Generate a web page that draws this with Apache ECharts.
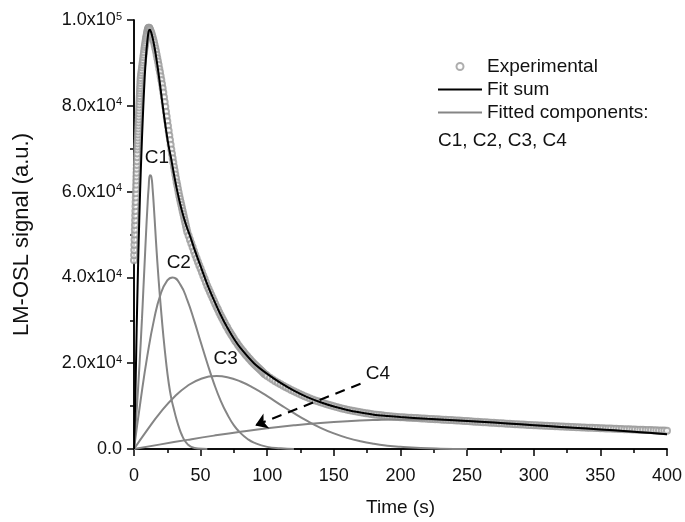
<!DOCTYPE html>
<html>
<head>
<meta charset="utf-8">
<script src="https://cdn.jsdelivr.net/npm/echarts@6/dist/echarts.min.js"></script>
<style>
  html, body { margin: 0; padding: 0; background: #fff; }
  #chart { width: 685px; height: 522px; }
</style>
</head>
<body>
<div id="chart"></div>
<script>
// y tick labels (superscript via rich text)
const yTickLabels = ['0.0', '2.0x10{sup|4}', '4.0x10{sup|4}', '6.0x10{sup|4}', '8.0x10{sup|4}', '1.0x10{sup|5}'];

// experimental LM-OSL points, grouped by time step
const expRise = [44000, 45200, 46400, 47600, 48800, 50000, 51100, 52200, 53300, 54400,
    55500, 56600, 57600, 58600, 59600, 60600, 61600, 62600, 63500, 64400,
    65300, 66200, 67100, 68000, 68900, 69800, 70500, 71200, 71900, 72600,
    73300, 74000, 74700, 75400, 76100, 76800, 77500, 78200, 78900, 79600,
    80300, 81000, 81700, 82300, 82900, 83500, 84100, 84700, 85300, 85900, 86500];  // 0 - 5 s, 0.1 s
const expPeak = [87100, 87700, 88300, 88900, 89500, 90100, 90700, 91300, 91900, 92500,
    93100, 93700, 94200, 94700, 95200, 95700, 96100, 96500, 96900, 97300,
    97600, 97900, 98100, 98200, 98200, 98100, 97900, 97700];  // 5.25 - 12 s, 0.25 s
const expFall = [97400, 97000, 96500, 96000, 95400, 94800, 94100, 93400, 92700, 91900,
    91100, 90300, 89500, 88600, 87800, 86900, 86000, 85100, 84100, 83100,
    82000, 80900, 79800, 78600, 77500, 76400, 75300, 74200, 73100, 72000,
    70900, 69800, 68800, 67800, 66800, 65800, 64900, 64000, 63100, 62200,
    61400, 60600, 59800, 59000, 58300, 57600, 56900, 56200, 55500, 54800,
    54100, 53400, 52700, 52000, 51300, 50600];  // 12.5 - 40 s, 0.5 s
const expMid = [49700, 48800, 47900, 47000, 46100, 45200, 44400, 43600, 42800, 42000,
    41200, 40400, 39600, 38800, 38000, 37300, 36600, 35900, 35200, 34500,
    33800, 33100, 32500, 31800, 31200, 30600, 30000, 29400, 28800, 28300,
    27700, 27200, 26700, 26200, 25700, 25200, 24800, 24300, 23900, 23500,
    23100, 22700, 22300, 21900, 21600, 21200, 20900, 20500, 20200, 19900,
    19600, 19300, 19000, 18700, 18400, 18100, 17800, 17500, 17300, 17000];  // 41 - 100 s, 1 s
const expTail = [16600, 16200, 15800, 15450, 15100, 14750, 14400, 14080, 13760, 13450,
    13150, 12860, 12580, 12310, 12050, 11800, 11560, 11330, 11110, 10900,
    10700, 10500, 10310, 10120, 9940, 9770, 9610, 9450, 9300, 9160,
    9030, 8900, 8780, 8660, 8550, 8450, 8350, 8250, 8160, 8070,
    7990, 7910, 7840, 7770, 7700, 7640, 7580, 7520, 7470, 7420,
    7380, 7340, 7310, 7270, 7240, 7200, 7160, 7130, 7090, 7050,
    7020, 6980, 6950, 6910, 6880, 6840, 6810, 6770, 6740, 6700,
    6660, 6620, 6580, 6540, 6500, 6460, 6420, 6380, 6340, 6300,
    6260, 6220, 6180, 6140, 6100, 6060, 6020, 5980, 5940, 5900,
    5860, 5830, 5790, 5760, 5720, 5690, 5650, 5620, 5580, 5550,
    5520, 5490, 5460, 5430, 5400, 5370, 5340, 5310, 5280, 5250,
    5220, 5200, 5170, 5140, 5110, 5090, 5060, 5030, 5010, 4980,
    4950, 4930, 4900, 4880, 4850, 4820, 4800, 4770, 4750, 4720,
    4700, 4680, 4650, 4630, 4610, 4580, 4560, 4540, 4510, 4490,
    4470, 4450, 4420, 4400, 4380, 4360, 4340, 4310, 4290, 4270];  // 102 - 400 s, 2 s

const fitSum = [[0, 0], [1, 12000], [2, 28000], [3, 42000], [4, 54000], [5, 64000], [6, 72500],
    [7, 80000], [8, 86500], [9, 91500], [10, 95000], [11, 97300], [12, 97700], [13, 97000],
    [14, 95800], [15, 94300], [16, 92600], [18, 88500], [20, 83800], [22, 79000], [24, 74500],
    [26, 70600], [28, 67500], [30, 64000], [32, 60800], [34, 58000], [36, 55500], [38, 53300],
    [40, 51400], [42, 49700], [45, 46900], [50, 42600], [55, 38400], [60, 34700], [65, 31300],
    [70, 28300], [75, 25700], [80, 23500], [90, 20000], [100, 17500], [110, 15400], [120, 13600],
    [130, 12100], [140, 10900], [150, 9900], [160, 9100], [170, 8500], [180, 8000], [190, 7700],
    [200, 7450], [220, 7050], [240, 6700], [260, 6350], [280, 5950], [300, 5550], [320, 5150],
    [340, 4750], [360, 4350], [380, 3900], [400, 3450]];

const compC1 = [[0, 0], [2, 9000], [4, 19000], [6, 30500], [7, 37000], [8, 43500], [9, 50000],
    [10, 56000], [11, 61000], [12, 63800], [13, 63500], [14, 60500], [15, 56000], [16, 51000],
    [17, 46000], [18, 41500], [19, 37300], [20, 33500], [22, 26500], [24, 20500], [26, 15500],
    [28, 11800], [30, 9200], [32, 6800], [34, 4800], [36, 3200], [38, 2000], [40, 1200],
    [43, 500], [48, 100], [55, 0]];
const compC2 = [[0, 0], [5, 11400], [10, 21700], [15, 30100], [20, 36100], [25, 39300], [29, 40000],
    [35, 38200], [40, 34700], [45, 30100], [50, 25000], [55, 20000], [60, 15300], [65, 11300],
    [70, 8100], [75, 5500], [80, 3700], [85, 2400], [90, 1500], [100, 500], [110, 150], [120, 0]];
const compC3 = [[0, 0], [10, 4460], [20, 8590], [30, 12070], [40, 14680], [50, 16330], [62, 17000],
    [70, 16740], [80, 15730], [90, 14190], [100, 12320], [110, 10300], [120, 8340], [130, 6530],
    [140, 4940], [150, 3630], [160, 2590], [170, 1790], [180, 1200], [190, 780], [200, 500],
    [215, 220], [230, 80], [250, 0]];
const compC4 = [[0, 0], [20, 1080], [40, 2130], [60, 3120], [80, 4030], [100, 4840], [120, 5520],
    [140, 6070], [160, 6480], [180, 6750], [200, 6890], [220, 6880], [240, 6700], [260, 6380],
    [280, 5980], [300, 5580], [320, 5170], [340, 4760], [360, 4340], [380, 3900], [400, 3450]];

let experimental = [];
[[0, 0.1, expRise], [5.25, 0.25, expPeak], [12.5, 0.5, expFall], [41, 1, expMid], [102, 2, expTail]]
    .forEach(seg => seg[2].forEach((v, i) => experimental.push([+(seg[0] + i * seg[1]).toFixed(2), v])));

const FONT = "'Liberation Sans', Arial, sans-serif";
const GREY = '#858585';
const LINE_ICON = 'path://M0,0H44V2H0Z';

let myChart = echarts.init(document.getElementById('chart'));

function component(data, label) {
    return {
        name: 'Fitted components:',
        type: 'line',
        data: data,
        smooth: true,
        symbol: 'none',
        lineStyle: {color: GREY, width: 2},
        itemStyle: {color: GREY},
        z: 3,
        markPoint: {
            symbol: 'circle',
            symbolSize: 0,
            silent: true,
            label: {show: true, position: 'inside', fontSize: 19, color: '#111', fontFamily: FONT},
            data: [label]
        }
    };
}

let option = {
    animation: false,
    textStyle: {fontFamily: FONT},
    grid: {left: 134, right: 16, top: 20, bottom: 71},
    legend: {
        orient: 'vertical',
        left: 438,
        top: 57,
        padding: 0,
        itemWidth: 44,
        itemHeight: 7,
        itemGap: 4,
        textStyle: {fontSize: 19, lineHeight: 19, color: '#111', fontFamily: FONT},
        data: [
            {name: 'Experimental', icon: 'emptyCircle'},
            {name: 'Fit sum', icon: LINE_ICON},
            {name: 'Fitted components:', icon: LINE_ICON}
        ]
    },
    graphic: [{
        type: 'text',
        left: 438,
        top: 131,
        style: {text: 'C1, C2, C3, C4', fontSize: 19, fill: '#111', fontFamily: FONT}
    }],
    xAxis: [{
        type: 'value',
        min: 0, max: 400, interval: 50,
        name: 'Time (s)',
        nameLocation: 'middle',
        nameGap: 49,
        nameTextStyle: {fontSize: 19, color: '#111'},
        axisLine: {lineStyle: {color: '#000', width: 1.5}},
        axisTick: {inside: false, length: 7, lineStyle: {color: '#000', width: 1.5}},
        minorTick: {show: true, splitNumber: 2, length: 4, lineStyle: {color: '#000', width: 1.5}},
        axisLabel: {fontSize: 18, color: '#111', margin: 18},
        splitLine: {show: false}
    }, {
        type: 'value',
        position: 'top',
        min: 0, max: 400, interval: 50,
        axisLine: {lineStyle: {color: '#000', width: 1.5}},
        axisTick: {inside: true, length: 7, lineStyle: {color: '#000', width: 1.5}},
        minorTick: {show: true, splitNumber: 2, length: 4, lineStyle: {color: '#000', width: 1.5}},
        axisLabel: {show: false},
        splitLine: {show: false}
    }],
    yAxis: [{
        type: 'value',
        min: 0, max: 100000, interval: 20000,
        name: 'LM-OSL signal (a.u.)',
        nameLocation: 'middle',
        nameGap: 101,
        nameTextStyle: {fontSize: 22, color: '#111'},
        axisLine: {lineStyle: {color: '#000', width: 1.5}},
        axisTick: {inside: false, length: 7, lineStyle: {color: '#000', width: 1.5}},
        minorTick: {show: true, splitNumber: 2, length: 4, lineStyle: {color: '#000', width: 1.5}},
        axisLabel: {
            fontSize: 18, color: '#111', margin: 12,
            formatter: v => yTickLabels[Math.round(v / 20000)],
            rich: {sup: {fontSize: 11, verticalAlign: 'top', lineHeight: 11, padding: [0, 0, 11, 0], color: '#111'}}
        },
        splitLine: {show: false}
    }, {
        type: 'value',
        position: 'right',
        min: 0, max: 100000, interval: 20000,
        axisLine: {lineStyle: {color: '#000', width: 1.5}},
        axisTick: {inside: true, length: 7, lineStyle: {color: '#000', width: 1.5}},
        minorTick: {show: true, splitNumber: 2, length: 4, lineStyle: {color: '#000', width: 1.5}},
        axisLabel: {show: false},
        splitLine: {show: false}
    }],
    series: [
        {
            name: 'Experimental',
            type: 'scatter',
            data: experimental,
            symbol: 'emptyCircle',
            symbolSize: 6,
            itemStyle: {color: '#9a9a9a', borderWidth: 1},
            z: 2
        },
        component(compC1, {coord: [17.2, 68000], label: {formatter: 'C1'}}),
        component(compC2, {coord: [33.6, 43300], label: {formatter: 'C2'}}),
        component(compC3, {coord: [68.8, 21000], label: {formatter: 'C3'}}),
        Object.assign(component(compC4, {coord: [183, 17500], label: {formatter: 'C4'}}), {
            markLine: {
                silent: true,
                symbol: ['none', 'arrow'],
                symbolSize: 12,
                label: {show: false},
                lineStyle: {color: '#000', width: 2, type: [10, 7]},
                data: [[{coord: [170, 15200]}, {coord: [91, 5500]}]]
            }
        }),
        {
            name: 'Fit sum',
            type: 'line',
            data: fitSum,
            smooth: 0.3,
            symbol: 'none',
            lineStyle: {color: '#000', width: 2},
            itemStyle: {color: '#000'},
            z: 4
        }
    ]
};

myChart.setOption(option);
</script>
</body>
</html>
